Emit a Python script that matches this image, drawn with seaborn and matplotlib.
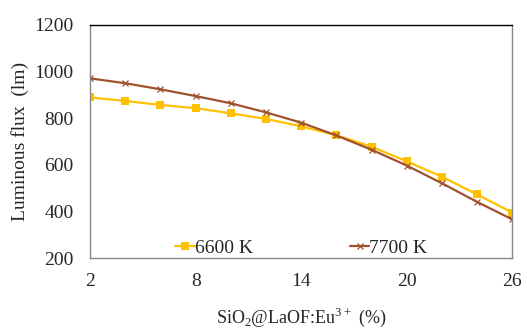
import matplotlib
matplotlib.use("Agg")
import matplotlib.pyplot as plt
import seaborn as sns

# SiO2@LaOF:Eu3+ concentration (%)
conc = [2, 4, 6, 8, 10, 12, 14, 16, 18, 20, 22, 24, 26]
flux_6600 = [889, 874, 857, 843, 821, 797, 765, 727, 678, 615, 549, 473, 395]
flux_7700 = [971, 950, 924, 895, 864, 825, 781, 726, 665, 597, 521, 441, 366]
x_ticks = [2, 8, 14, 20, 26]
y_ticks = [200, 400, 600, 800, 1000, 1200]

sns.set_style("white")
plt.rcParams["font.family"] = ["Liberation Serif", "DejaVu Serif"]
plt.rcParams["mathtext.fontset"] = "custom"
plt.rcParams["mathtext.rm"] = "Liberation Serif"

fig = plt.figure(figsize=(5.27, 3.33), dpi=100)
ax = fig.add_axes([0.171, 0.225, 0.801, 0.70])

sns.lineplot(x=conc, y=flux_6600, color="#FFC000", marker="s",
             markersize=6, markeredgewidth=0, linewidth=1.6,
             label="6600 K", ax=ax)
sns.lineplot(x=conc, y=flux_7700, color="#A0522D", marker="x",
             markersize=5, markeredgewidth=0.9, markeredgecolor="#A0522D",
             linewidth=1.6, label="7700 K", ax=ax)

ax.set_xlim(2, 26)
ax.set_ylim(200, 1200)
ax.set_xticks(x_ticks)
ax.set_yticks(y_ticks)
ax.tick_params(axis="both", direction="out", length=5, width=1,
               color="#868686", labelsize=14, pad=6)
ax.tick_params(axis="y", length=6)
for side in ["left", "bottom", "right"]:
    ax.spines[side].set_color("#868686")
ax.spines["top"].set_color("black")
for s in ax.spines.values():
    s.set_linewidth(1)

ax.set_xlabel(r"SiO$_\mathrm{2}$@LaOF:Eu$^\mathrm{3+}$ (%)", fontsize=13,
              labelpad=11)
ax.set_ylabel("Luminous flux  (lm)", fontsize=14, labelpad=4)

leg = ax.legend(loc="lower center", bbox_to_anchor=(0.5, -0.07), ncol=2,
                frameon=False, fontsize=14, handlelength=1.0,
                handletextpad=0.0, columnspacing=5.0)

fig.savefig("out.png", dpi=100)
